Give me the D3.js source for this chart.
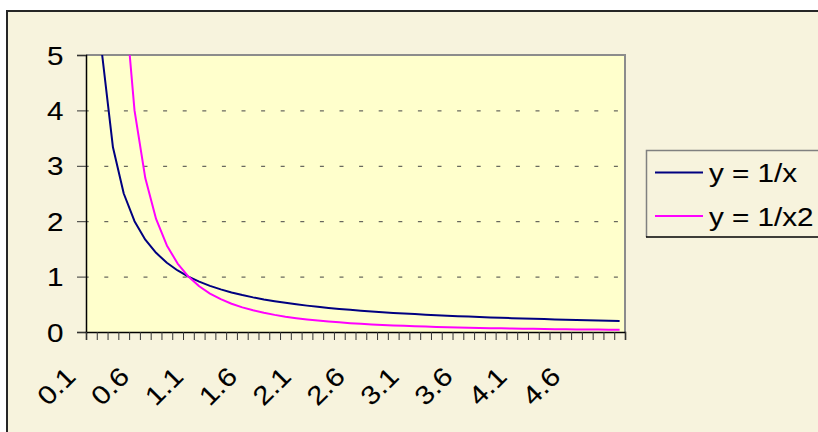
<!DOCTYPE html>
<html>
<head>
<meta charset="utf-8">
<script src="https://cdn.jsdelivr.net/npm/d3@7"></script>
<style>
  html, body { margin: 0; padding: 0; background: #ffffff; }
  svg { display: block; }
  text { font-family: "Liberation Sans", Arial, sans-serif; fill: #000; stroke: #000; stroke-width: 0.1px; }
</style>
</head>
<body>
<svg id="chart" width="818" height="432"></svg>
<script>
// ---- data ----
const categories = [0.1,0.2,0.3,0.4,0.5,0.6,0.7,0.8,0.9,1.0,
  1.1,1.2,1.3,1.4,1.5,1.6,1.7,1.8,1.9,2.0,
  2.1,2.2,2.3,2.4,2.5,2.6,2.7,2.8,2.9,3.0,
  3.1,3.2,3.3,3.4,3.5,3.6,3.7,3.8,3.9,4.0,
  4.1,4.2,4.3,4.4,4.5,4.6,4.7,4.8,4.9,5.0];
const seriesInverse = [10,5,3.333,2.5,2,1.667,1.429,1.25,1.111,1,
  0.909,0.833,0.769,0.714,0.667,0.625,0.588,0.556,0.526,0.5,
  0.476,0.455,0.435,0.417,0.4,0.385,0.370,0.357,0.345,0.333,
  0.323,0.3125,0.303,0.294,0.286,0.278,0.270,0.263,0.256,0.25,
  0.244,0.238,0.233,0.227,0.222,0.217,0.213,0.208,0.204,0.2];
const seriesInverseSquare = [100,25,11.11,6.25,4,2.778,2.041,1.5625,1.235,1,
  0.826,0.694,0.592,0.510,0.444,0.391,0.346,0.309,0.277,0.25,
  0.227,0.207,0.189,0.174,0.16,0.148,0.137,0.128,0.119,0.111,
  0.104,0.0977,0.0918,0.0865,0.0816,0.0772,0.0730,0.0693,0.0657,0.0625,
  0.0595,0.0567,0.0541,0.0517,0.0494,0.0473,0.0453,0.0434,0.0416,0.04];
const seriesNames = ["y = 1/x", "y = 1/x2"];
const seriesColors = ["#000080", "#FF00FF"];
const yTickValues = [0,1,2,3,4,5];
const xTickLabels = ["0.1","0.6","1.1","1.6","2.1","2.6","3.1","3.6","4.1","4.6"];

// ---- layout ----
const plot = {left: 86, right: 625, top: 55, bottom: 332};
const FS = 26, SX = 1.14;

const svg = d3.select("#chart");

// chart area
svg.append("rect").attr("x", 7).attr("y", 11).attr("width", 900).attr("height", 500)
  .attr("fill", "#F7F3DD").attr("stroke", "#262626").attr("stroke-width", 2);

// plot area
svg.append("rect").attr("x", plot.left).attr("y", plot.top)
  .attr("width", plot.right - plot.left).attr("height", plot.bottom - plot.top)
  .attr("fill", "#FFFFCC");

const xBand = d3.scaleBand().domain(categories).range([plot.left, plot.right]);
const xLin = d3.scaleLinear().domain([0, categories.length]).range([plot.left, plot.right]);
const y = d3.scaleLinear().domain([0, 5]).range([plot.bottom, plot.top]);

// gridlines
svg.append("g").selectAll("line").data(yTickValues.filter(v => v > 0 && v < 5)).join("line")
  .attr("x1", plot.left).attr("x2", plot.right)
  .attr("y1", d => y(d) + 0.5).attr("y2", d => y(d) + 0.5)
  .attr("stroke", "#444").attr("stroke-width", 1)
  .attr("stroke-dasharray", "4,15.6").attr("stroke-dashoffset", -18.3);

// plot border (top / right gray)
svg.append("path")
  .attr("d", `M${plot.left},${plot.top} H${plot.right} V${plot.bottom}`)
  .attr("fill", "none").attr("stroke", "#8C8C8C").attr("stroke-width", 2);

// clip
svg.append("clipPath").attr("id", "clip").append("rect")
  .attr("x", plot.left).attr("y", plot.top)
  .attr("width", plot.right - plot.left).attr("height", plot.bottom - plot.top);

const line = d3.line()
  .x((d, i) => xBand(categories[i]) + xBand.bandwidth() / 2)
  .y(d => y(d));

[seriesInverse, seriesInverseSquare].forEach((s, k) => {
  svg.append("path").datum(s)
    .attr("clip-path", "url(#clip)")
    .attr("d", line)
    .attr("fill", "none").attr("stroke", seriesColors[k]).attr("stroke-width", 2)
    .attr("stroke-linejoin", "round");
});

// y axis
const yAxis = svg.append("g").attr("transform", `translate(${plot.left},0)`)
  .call(d3.axisLeft(y).tickValues(yTickValues).tickSize(9).tickFormat(""));
yAxis.select(".domain").attr("stroke", "#000").attr("stroke-width", 1.5);
yAxis.selectAll(".tick line").attr("stroke", "#333");
svg.append("g").selectAll("text").data(yTickValues).join("text")
  .attr("transform", d => `translate(63.5,${y(d) + 9.5}) scale(${SX},1)`)
  .attr("text-anchor", "end").attr("font-size", FS)
  .text(d => d);

// x axis
const xAxis = svg.append("g").attr("transform", `translate(0,${plot.bottom})`)
  .call(d3.axisBottom(xLin).tickValues(d3.range(categories.length + 1)).tickSize(8).tickFormat(""));
xAxis.select(".domain").attr("stroke", "#000").attr("stroke-width", 1.5);
xAxis.selectAll(".tick line").attr("stroke", "#333");

const labelCats = categories.filter(c => xTickLabels.includes(c.toFixed(1)));
svg.append("g").selectAll("text").data(labelCats).join("text")
  .attr("transform", d => `translate(${xBand(d) + xBand.bandwidth() / 2 - 14.3},378) rotate(-45) scale(${SX},1)`)
  .attr("text-anchor", "end").attr("font-size", FS)
  .text(d => d.toFixed(1));

// legend
const lg = svg.append("g");
lg.append("rect").attr("x", 646).attr("y", 150).attr("width", 300).attr("height", 87)
  .attr("fill", "#F7F3DD").attr("stroke", "none");
lg.append("path").attr("d", "M646.5,237 V150.5 H818").attr("fill", "none").attr("stroke", "#808080").attr("stroke-width", 1.5);
lg.append("path").attr("d", "M646,237 H818").attr("fill", "none").attr("stroke", "#000").attr("stroke-width", 1.5);
const legendY = [172.5, 216];
seriesNames.forEach((name, k) => {
  lg.append("line").attr("x1", 655).attr("x2", 703)
    .attr("y1", legendY[k]).attr("y2", legendY[k])
    .attr("stroke", seriesColors[k]).attr("stroke-width", 2);
  lg.append("text")
    .attr("transform", `translate(709,${legendY[k] + 9.5}) scale(${SX},1)`)
    .attr("font-size", FS).text(name);
});
</script>
</body>
</html>
